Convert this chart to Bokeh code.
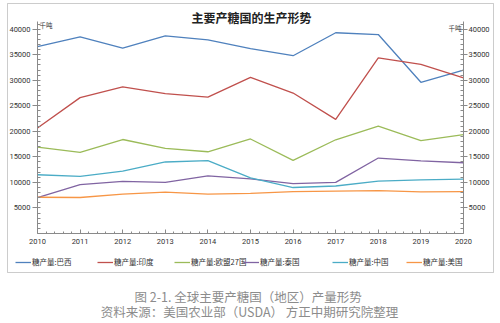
from bokeh.plotting import figure
from bokeh.models import (LinearAxis, FixedTicker, Label, Legend, LegendItem,
                          BoxAnnotation, Range1d)
from bokeh.embed import file_html
from bokeh.resources import INLINE

years = list(range(2010, 2021))
brazil = [36600, 38500, 36300, 38700, 37900, 36200, 34800, 39300, 38950, 29600, 32000]
india = [20650, 26600, 28700, 27400, 26700, 30550, 27500, 22350, 34400, 33100, 30450]
eu27 = [16900, 15900, 18400, 16650, 16000, 18500, 14300, 18350, 21000, 18200, 19350]
thailand = [7000, 9550, 10200, 10000, 11300, 10700, 9750, 10000, 14770, 14200, 13850]
china = [11500, 11200, 12200, 14000, 14250, 10900, 9000, 9300, 10250, 10500, 10650]
usa = [7100, 7050, 7700, 8100, 7700, 7850, 8200, 8300, 8400, 8150, 8200]

series_names = ["糖产量:巴西", "糖产量:印度", "糖产量:欧盟27国", "糖产量:泰国", "糖产量:中国", "糖产量:美国"]
series_values = [brazil, india, eu27, thailand, china, usa]
colors = ["#4f81bd", "#c0504d", "#9bbb59", "#8064a2", "#4bacc6", "#f79646"]
y_ticks = [5000, 10000, 15000, 20000, 25000, 30000, 35000, 40000]
y_top = 41500

title_text = "主要产糖国的生产形势"
unit_text = "千吨"
caption1 = "图 2-1.  全球主要产糖国（地区）产量形势"
caption2 = "资料来源：美国农业部（USDA） 方正中期研究院整理"

W, H = 500, 323
# plot-area placement on the canvas (px)
PL, PR, PT, PB = 37, 463, 21, 233
xs = (years[-1] - years[0]) / (PR - PL)
ys = y_top / (PB - PT)
x_range = Range1d(years[0] - PL * xs, years[-1] + (W - PR) * xs)
y_range = Range1d(-(H - PB) * ys, y_top + PT * ys)

p = figure(width=W, height=H, output_backend="svg", toolbar_location=None,
           x_range=x_range, y_range=y_range,
           min_border=0, x_axis_location=None, y_axis_location=None)
p.outline_line_color = None
p.xgrid.visible = False
p.ygrid.visible = False
p.background_fill_color = "white"
p.border_fill_color = "white"

tick_font = "Roboto"

def style_axis(ax):
    ax.axis_line_color = "#8a8a8a"
    ax.major_tick_line_color = "#8a8a8a"
    ax.minor_tick_line_color = "#8a8a8a"
    ax.major_label_text_font = tick_font
    ax.major_label_text_font_size = "7.5px"
    ax.major_label_text_color = "#333333"

xa = LinearAxis(ticker=FixedTicker(ticks=years, minor_ticks=[2010 + i * 0.2 for i in range(51)]),
                fixed_location=0, bounds=(years[0], years[-1]))
style_axis(xa)
xa.major_tick_in = 4
xa.major_tick_out = 0
xa.minor_tick_in = 2
xa.minor_tick_out = 0
xa.major_label_standoff = 5
p.add_layout(xa, "below")

yminor = [i * 1000 for i in range(1, 42)]
ly = LinearAxis(ticker=FixedTicker(ticks=y_ticks, minor_ticks=yminor),
                fixed_location=years[0], bounds=(0, y_top))
style_axis(ly)
ly.major_tick_in = 0
ly.major_tick_out = 5
ly.minor_tick_in = 3
ly.minor_tick_out = 0
ly.major_label_standoff = 2
p.add_layout(ly, "left")

ry = LinearAxis(ticker=FixedTicker(ticks=y_ticks, minor_ticks=yminor),
                fixed_location=years[-1], bounds=(0, y_top))
style_axis(ry)
ry.major_tick_in = 0
ry.major_tick_out = 4
ry.minor_tick_in = 3
ry.minor_tick_out = 0
ry.major_label_standoff = 1
p.add_layout(ry, "right")

renderers = []
for vals, c in zip(series_values, colors):
    r = p.line(years, vals, line_color=c, line_width=1.3)
    renderers.append(r)

def sx(cx):
    return cx

def sy(cy):
    return H - cy

# outer frame
p.add_layout(BoxAnnotation(left=sx(7), right=sx(493), top=sy(3), bottom=sy(272),
                           left_units="screen", right_units="screen",
                           top_units="screen", bottom_units="screen",
                           fill_alpha=0, line_color="#555555", line_width=1))

# title
p.add_layout(Label(x=sx(251), y=sy(17), x_units="screen", y_units="screen",
                   text=title_text, text_align="center", text_baseline="middle",
                   text_font="Noto Sans CJK SC", text_font_style="bold",
                   text_font_size="12px", text_color="#222222"))
# units
p.add_layout(Label(x=sx(39), y=sy(24), x_units="screen", y_units="screen",
                   text=unit_text, text_align="left", text_baseline="middle",
                   text_font="Noto Sans CJK SC", text_font_size="6.5px", text_color="#333333"))
p.add_layout(Label(x=sx(461), y=sy(27), x_units="screen", y_units="screen",
                   text=unit_text, text_align="right", text_baseline="middle",
                   text_font="Noto Sans CJK SC", text_font_size="6.5px", text_color="#333333"))

# legends
leg_x = [15, 97, 174, 243, 332, 406]
for name, r, lx in zip(series_names, renderers, leg_x):
    lg = Legend(items=[LegendItem(label=name, renderers=[r])],
                location=(sx(lx), sy(267)), orientation="horizontal",
                glyph_width=16, glyph_height=10, label_height=10, label_standoff=1,
                padding=0, margin=0, spacing=0,
                border_line_alpha=0, background_fill_alpha=0,
                label_text_font="Noto Sans CJK SC", label_text_font_size="7.5px",
                label_text_color="#333333")
    p.add_layout(lg, "center")

# captions
p.add_layout(Label(x=sx(249), y=sy(296), x_units="screen", y_units="screen",
                   text=caption1, text_align="center", text_baseline="middle",
                   text_font="Noto Sans CJK SC", text_font_size="12.5px", text_color="#8c8c8c"))
p.add_layout(Label(x=sx(249), y=sy(311), x_units="screen", y_units="screen",
                   text=caption2, text_align="center", text_baseline="middle",
                   text_font="Noto Sans CJK SC", text_font_size="12.5px", text_color="#8c8c8c"))

open("out.html", "w").write(file_html(p, INLINE))
